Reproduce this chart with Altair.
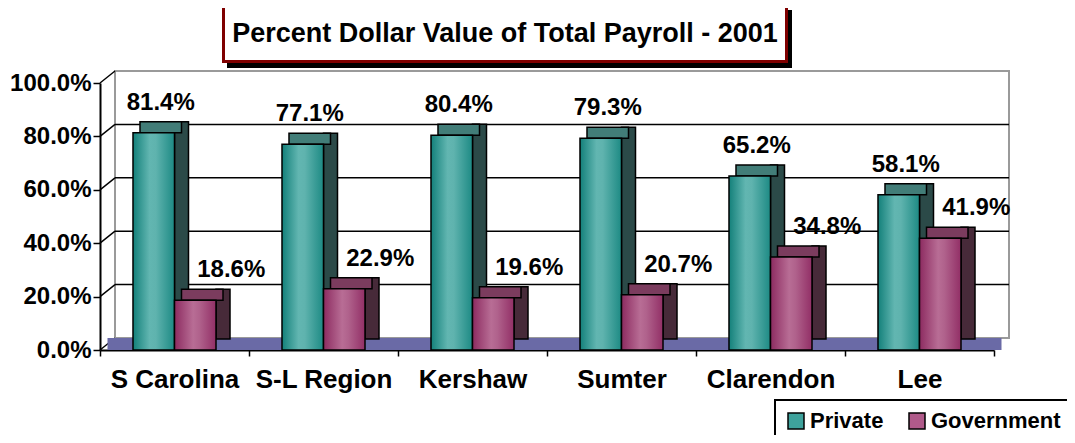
import altair as alt
import pandas as pd

regions = ["S Carolina", "S-L Region", "Kershaw", "Sumter", "Clarendon", "Lee"]
private = [81.4, 77.1, 80.4, 79.3, 65.2, 58.1]
government = [18.6, 22.9, 19.6, 20.7, 34.8, 41.9]
series = ["Private", "Government"]
y_ticks = [0, 20, 40, 60, 80, 100]
title_text = "Percent Dollar Value of Total Payroll - 2001"

rows = []
for r, p, g in zip(regions, private, government):
    rows.append({"region": r, "series": "Private", "value": p})
    rows.append({"region": r, "series": "Government", "value": g})
df = pd.DataFrame(rows)
ticks_df = pd.DataFrame({"v": y_ticks})
one = pd.DataFrame({"k": [0]})

W, H = 894, 267
STEP = W / len(regions)
FONT = "Liberation Sans"
DX, DY = 14, 11      # bar depth
WX, WY = 15, 12      # wall depth
PO = 0.795
SUB = STEP / (2 + 2 * PO)

x_enc = alt.X("region:N", sort=regions, title=None,
              scale=alt.Scale(paddingInner=0, paddingOuter=0),
              axis=alt.Axis(labelAngle=0, labelFont=FONT, labelFontSize=26,
                            labelFontWeight="bold", labelColor="black",
                            labelPadding=10, domainColor="black", domainWidth=2,
                            tickColor="black", tickWidth=1.5, tickSize=6,
                            tickBand="extent", grid=False))


def xo_enc(shift=0.0):
    return alt.XOffset("series:N", sort=series,
                       scale=alt.Scale(domain=series, paddingInner=0, paddingOuter=PO,
                                       range=[shift, STEP + shift]))


y_axis = alt.Axis(values=y_ticks, labelExpr="format(datum.value,'.1f')+'%'",
                  labelFont=FONT, labelFontSize=24, labelFontWeight="bold",
                  labelColor="black", labelPadding=2, domainColor="black",
                  domainWidth=2, tickColor="black", tickWidth=1.5, tickSize=7,
                  grid=False, title=None)
y_scale = alt.Scale(domain=[0, 100], nice=False, zero=True)


def yenc(field):
    return alt.Y(field, scale=y_scale, axis=y_axis, title=None)


# back wall
wall = alt.Chart(one).mark_rect(fill="white", stroke="#9a9a9a", strokeWidth=2,
                                yOffset=-WY, y2Offset=-WY).encode(
    x=alt.value(WX), x2=alt.value(W + WX),
    y=alt.datum(100), y2=alt.datum(0))

grid = alt.Chart(ticks_df).transform_filter(
    (alt.datum.v > 0) & (alt.datum.v < 100)
).mark_rule(color="black", strokeWidth=1.5, yOffset=-WY).encode(
    x=alt.value(WX), x2=alt.value(W + WX), y=yenc("v:Q"))

diag = alt.Chart(ticks_df).mark_rule(color="black", strokeWidth=1.5,
                                     y2Offset=-WY).encode(
    x=alt.value(0), x2=alt.value(WX), y=yenc("v:Q"), y2="v:Q")

floor = alt.Chart(one).mark_rect(fill="#6a6aa6", y2Offset=-WY).encode(
    x=alt.value(WX / 2), x2=alt.value(W + WX / 2),
    y=alt.datum(0), y2=alt.datum(0))


def grad(stops):
    return alt.Gradient(gradient="linear", x1=0, x2=1, y1=0, y2=0,
                        stops=[alt.GradientStop(color=c, offset=o) for o, c in stops])


styles = {
    "Private": dict(front=grad([(0, "#13807a"), (0.4, "#62b6b1"), (0.55, "#5fb3ae"), (1, "#1d8a84")]),
                    top="#427d78", side="#2b4a48", dx=15),
    "Government": dict(front=grad([(0, "#8c2b60"), (0.45, "#b86d95"), (0.6, "#b0628c"), (1, "#922f66")]),
                       top="#7b3c5e", side="#472a39", dx=28),
}

bar_layers = []
label_layers = []
for s in series:
    st = styles[s]
    b = alt.Chart(df).transform_filter(alt.datum.series == s)
    side = b.mark_bar(fill=st["side"], stroke="black", strokeWidth=1.5,
                      width=DX, yOffset=-DY, y2Offset=-DY).encode(
        x=x_enc, xOffset=xo_enc(SUB / 2 + DX / 2), y=yenc("value:Q"), y2=alt.datum(0))
    top = b.mark_bar(fill=st["top"], stroke="black", strokeWidth=1.5,
                     yOffset=-DY, y2Offset=0).encode(
        x=x_enc, xOffset=xo_enc(DX / 2), y=yenc("value:Q"), y2="value:Q")
    front = b.mark_bar(fill=st["front"], stroke="black", strokeWidth=1.5).encode(
        x=x_enc, xOffset=xo_enc(0), y=yenc("value:Q"))
    bar_layers += [side, top, front]
    lab = b.transform_calculate(
        label="format(datum.value,'.1f') + '%'"
    ).mark_text(font=FONT, fontSize=24, fontWeight="bold", color="black",
                dx=st["dx"], dy=-30).encode(
        x=x_enc, xOffset=xo_enc(0), y=yenc("value:Q"), text="label:N")
    label_layers.append(lab)

legend_layer = alt.Chart(df).mark_bar(opacity=0).encode(
    x=x_enc, xOffset=xo_enc(0), y=yenc("value:Q"),
    color=alt.Color("series:N", sort=series,
                    scale=alt.Scale(domain=series, range=["#3ea29c", "#b05a8a"]),
                    legend=alt.Legend(orient="none", legendX=675, legendY=317,
                                      direction="horizontal", title=None,
                                      symbolType="square", symbolSize=256,
                                      symbolStrokeColor="black", symbolStrokeWidth=1.5,
                                      symbolOpacity=1, labelFont=FONT,
                                      labelFontSize=22, labelFontWeight="bold",
                                      labelColor="black", strokeColor="black",
                                      fillColor="white", padding=10,
                                      columnPadding=22, labelOffset=3,
                                      labelLimit=300)))

# title box
shadow = alt.Chart(one).mark_rect(fill="black").encode(
    x=alt.value(127), x2=alt.value(692), y=alt.value(-73), y2=alt.value(-15))
tbox = alt.Chart(one).mark_rect(fill="white", stroke="#7f0000", strokeWidth=3).encode(
    x=alt.value(123.5), x2=alt.value(686.5), y=alt.value(-76.5), y2=alt.value(-21.5))
ttext = alt.Chart(one).mark_text(font=FONT, fontSize=27, fontWeight="bold",
                                 color="black").encode(
    x=alt.value(405), y=alt.value(-49), text=alt.value(title_text))

chart = alt.layer(
    wall, grid, diag, floor, *bar_layers, *label_layers, legend_layer,
    shadow, tbox, ttext
).resolve_scale(xOffset="independent").properties(
    width=W, height=H,
    padding={"left": 92, "top": 75, "right": 73, "bottom": 85},
    autosize=alt.AutoSizeParams(type="none"),
    background="white",
).configure_view(stroke=None).configure_legend(strokeWidth=2)

chart.save("out.html", embed_options={"renderer": "svg", "actions": False})
